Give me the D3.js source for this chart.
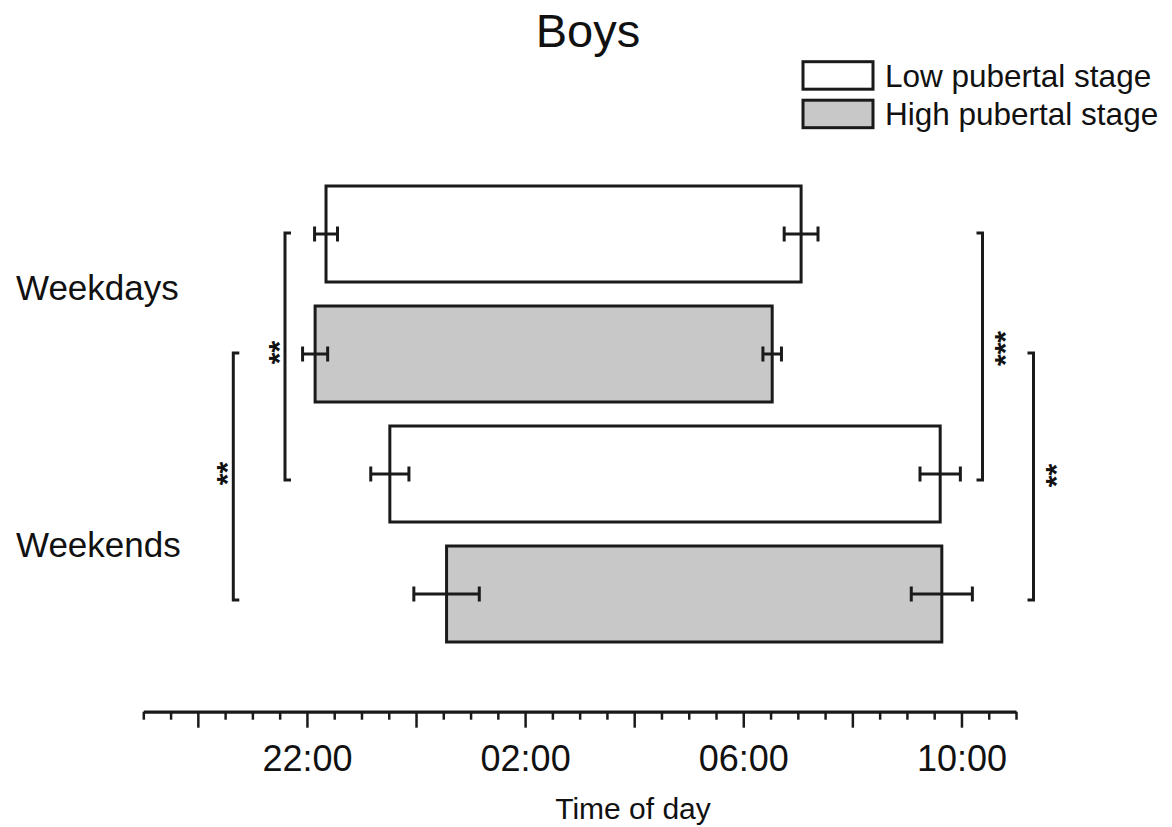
<!DOCTYPE html>
<html><head><meta charset="utf-8">
<script src="https://cdn.jsdelivr.net/npm/d3@7"></script>
<style>
html,body{margin:0;padding:0;background:#fff;}
svg{display:block;font-family:"Liberation Sans",Arial,sans-serif;}
</style></head>
<body><svg id="chart" width="1172" height="827"></svg>
<script>
// ---- data (times in decimal hours; morning hours continue past 24) ----
const categories = ["Weekdays", "Weekends"];
const stages = ["Low pubertal stage", "High pubertal stage"];
const lowBedtime = [22.35, 23.52];
const lowBedtimeErr = [0.21, 0.35];
const lowWaketime = [31.06, 33.61];
const lowWaketimeErr = [0.31, 0.37];
const highBedtime = [22.15, 24.56];
const highBedtimeErr = [0.23, 0.60];
const highWaketime = [30.53, 33.64];
const highWaketimeErr = [0.17, 0.56];
const tickValues = d3.range(19, 35.01, 0.5);
const labelledTicks = [22, 26, 30, 34];
// significance brackets: rows compared (0=Weekdays-Low,1=Weekdays-High,2=Weekends-Low,3=Weekends-High)
const sigSide = ["left", "left", "right", "right"];
const sigFrom = [0, 1, 0, 1];
const sigTo = [2, 3, 2, 3];
const sigLabel = ["**", "**", "***", "**"];

// ---- layout ----
const svg = d3.select("#chart");
const ink = "#1a1a1a";
const x = d3.scaleLinear().domain([19, 35]).range([143.3, 1016]);
const rows = [];
categories.forEach((c, i) => {
  rows.push({cat: c, stage: 0, bed: lowBedtime[i], bedErr: lowBedtimeErr[i], wake: lowWaketime[i], wakeErr: lowWaketimeErr[i]});
  rows.push({cat: c, stage: 1, bed: highBedtime[i], bedErr: highBedtimeErr[i], wake: highWaketime[i], wakeErr: highWaketimeErr[i]});
});
const y = d3.scaleBand().domain(d3.range(rows.length)).range([174, 654]).paddingInner(0.2).paddingOuter(0.1);
const fills = ["#ffffff", "#c8c8c8"];

// title
svg.append("text").attr("x", 588).attr("y", 46.5).attr("text-anchor", "middle")
  .attr("font-size", 47).attr("fill", "#111").text("Boys");

// legend
stages.forEach((s, i) => {
  const gy = 61.7 + i * 38.5;
  svg.append("rect").attr("x", 803).attr("y", gy).attr("width", 70).attr("height", 27.5)
    .attr("fill", fills[i]).attr("stroke", ink).attr("stroke-width", 3);
  svg.append("text").attr("x", 885).attr("y", gy + 25).attr("font-size", 31.5)
    .attr("fill", "#111").text(s);
});

// bars
svg.selectAll("rect.bar").data(rows).join("rect").attr("class", "bar")
  .attr("x", d => x(d.bed)).attr("width", d => x(d.wake) - x(d.bed))
  .attr("y", (d, i) => y(i)).attr("height", y.bandwidth())
  .attr("fill", d => fills[d.stage]).attr("stroke", ink).attr("stroke-width", 3);

// error bars
const capH = 7.5;
rows.forEach((d, i) => {
  const cy = y(i) + y.bandwidth() / 2;
  [[d.bed, d.bedErr], [d.wake, d.wakeErr]].forEach(([v, e]) => {
    const g = svg.append("g").attr("stroke", ink).attr("stroke-width", 3);
    g.append("line").attr("x1", x(v - e)).attr("x2", x(v + e)).attr("y1", cy).attr("y2", cy);
    g.append("line").attr("x1", x(v - e)).attr("x2", x(v - e)).attr("y1", cy - capH).attr("y2", cy + capH);
    g.append("line").attr("x1", x(v + e)).attr("x2", x(v + e)).attr("y1", cy - capH).attr("y2", cy + capH);
  });
});

// category labels
const catOffset = [-6.5, 11];
categories.forEach((c, i) => {
  const cy = (y(2 * i) + y(2 * i + 1) + y.bandwidth()) / 2 + catOffset[i];
  svg.append("text").attr("x", 16).attr("y", cy + 12).attr("font-size", 35)
    .attr("fill", "#111").text(c);
});

// significance brackets
const bracketX = {left: [285, 233.3], right: [982.5, 1033.5]};
const sideCount = {left: 0, right: 0};
const sigDy = [-4, -3, -8, -1];
sigLabel.forEach((lab, k) => {
  const side = sigSide[k];
  const bx = bracketX[side][sideCount[side]++];
  const y1 = y(sigFrom[k]) + y.bandwidth() / 2 - 1;
  const y2 = y(sigTo[k]) + y.bandwidth() / 2 + 6;
  const hook = side === "left" ? 6 : -6;
  svg.append("path")
    .attr("d", `M${bx + hook},${y1}H${bx}V${y2}H${bx + hook}`)
    .attr("fill", "none").attr("stroke", ink).attr("stroke-width", 3);
  const tx = side === "left" ? bx - 13 : bx + 15;
  const ty = (y1 + y2) / 2 + sigDy[k];
  svg.append("text").attr("transform", `translate(${tx},${ty}) rotate(-90)`)
    .attr("text-anchor", "middle").attr("dy", "0.57em").attr("font-size", 30)
    .attr("font-weight", "bold")
    .attr("fill", "#111").text(lab);
});

// x axis
const axisY = 711.7;
const fmt = t => labelledTicks.includes(t) ? String(t % 24).padStart(2, "0") + ":00" : "";
const axis = d3.axisBottom(x).tickValues(tickValues).tickSizeInner(8).tickSizeOuter(0).tickPadding(26).tickFormat(fmt);
const ga = svg.append("g").attr("transform", `translate(0,${axisY})`).call(axis);
ga.select(".domain").attr("stroke", ink).attr("stroke-width", 3.3);
ga.selectAll(".tick line").attr("stroke", ink).attr("stroke-width", 2.5)
  .attr("y2", d => (d % 2 === 0 ? 16 : 8));
ga.selectAll(".tick text").attr("font-size", 36).attr("fill", "#111")
  .attr("font-family", "'Liberation Sans', Arial, sans-serif").attr("dy", "0.71em");

// axis title
svg.append("text").attr("x", 633).attr("y", 819).attr("text-anchor", "middle")
  .attr("font-size", 30).attr("fill", "#111").text("Time of day");
</script></body></html>
